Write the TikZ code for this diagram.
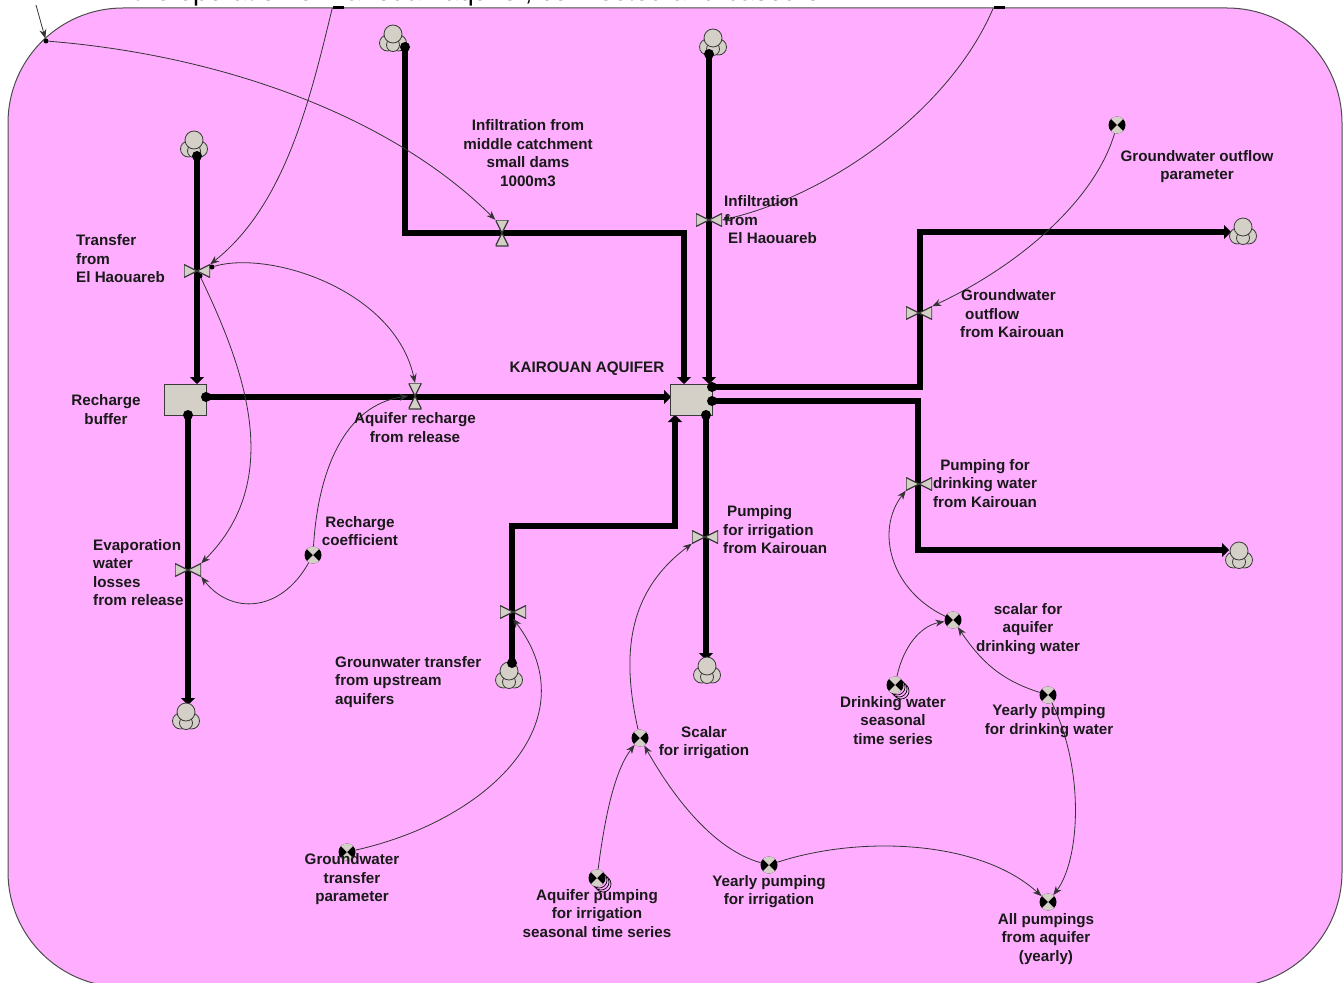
\documentclass[tikz,border=0pt]{standalone}
\usepackage{fontspec}
\setmainfont{Liberation Sans}
\usetikzlibrary{arrows.meta,backgrounds}
\definecolor{panelpink}{HTML}{FFAEFF}
\definecolor{partgray}{HTML}{D4D0C8}
\definecolor{edgegray}{HTML}{3A3A3A}
\tikzset{
  x=1pt,y=-1pt,
  lbl/.style={font=\fontsize{15.2}{18.5}\selectfont\bfseries,inner sep=0pt,text=black!90,yshift=-0.3pt},
  lc/.style={lbl,align=center},
  ll/.style={lbl,align=left,anchor=west},
  pipe/.style={line width=5.5pt,black,line join=miter,-{Triangle[length=7pt,width=14pt]}},
  flowdot/.style={circle,fill=black,minimum size=10pt,inner sep=0pt},
  info/.style={line width=0.8pt,draw=black!80,-{Stealth[length=9pt,width=7pt]}},
  infodot/.style={circle,fill=black,minimum size=5pt,inner sep=0pt},
  topbar/.style={rectangle,fill=black,minimum width=11pt,minimum height=3pt,inner sep=0pt},
  stockbox/.style={rectangle,draw=edgegray,line width=0.8pt,fill=partgray,minimum width=42pt,minimum height=31pt,inner sep=0pt},
  valveh/.style={rectangle,minimum width=26pt,minimum height=13pt,inner sep=0pt,
    path picture={\filldraw[fill=partgray,draw=edgegray,line width=1.2pt]
      (path picture bounding box.north west) -- (path picture bounding box.south east) --
      (path picture bounding box.north east) -- (path picture bounding box.south west) -- cycle;}},
  valvev/.style={rectangle,minimum width=13pt,minimum height=26pt,inner sep=0pt,
    path picture={\filldraw[fill=partgray,draw=edgegray,line width=1.2pt]
      (path picture bounding box.north west) -- (path picture bounding box.south east) --
      (path picture bounding box.south west) -- (path picture bounding box.north east) -- cycle;}},
  conv/.style={circle,fill=black,minimum size=17pt,inner sep=0pt,
    path picture={\fill[partgray]
      (path picture bounding box.north west) -- (path picture bounding box.north east) --
      (path picture bounding box.south west) -- (path picture bounding box.south east) -- cycle;}},
  cloudpart/.style={draw=edgegray,line width=0.8pt,fill=partgray},
}
\newcommand{\cloudat}[3]{%
  \coordinate (#1) at (#2,#3);
  \filldraw[cloudpart] (#1) ++(-5.5,3) circle (8pt);
  \filldraw[cloudpart] (#1) ++(5.5,3) circle (8pt);
  \filldraw[cloudpart] (#1) ++(0,5) circle (6.5pt);
  \filldraw[cloudpart] (#1) ++(0,-6) circle (9pt);
}
\newcommand{\seriesat}[2]{%
  \foreach \d in {6,4,2} {\filldraw[draw=black,line width=0.7pt,fill=panelpink] (#1+\d,#2+\d) circle (8pt);}
}
\begin{document}
\begin{tikzpicture}
\useasboundingbox (0,0) rectangle (1343,982);

% top title, cut by the page edge
\node[anchor=base west,inner sep=0pt,font=\fontsize{27}{30}\selectfont] (title) at (133,0.5) {the operation of Kairouan aquifer, connected and based on};

% stocks
\node[stockbox] (buffer) at (185.5,399.5) {};
\node[stockbox] (aquifer) at (691.5,399.5) {};

% clouds
\cloudat{c1}{194}{146}
\cloudat{c2}{393}{40}
\cloudat{c3}{713}{44}
\cloudat{c4}{1243}{233}
\cloudat{c5}{1239}{557}
\cloudat{c6}{186}{718}
\cloudat{c7}{509}{677}
\cloudat{c8}{707}{672}

% valves
\node[valveh] (vTransfer) at (197,271) {};
\node[valvev] (vMiddle) at (502,233) {};
\node[valveh] (vInfil) at (709,220) {};
\node[valveh] (vOutflow) at (919,313) {};
\node[valveh] (vDrink) at (919,484) {};
\node[valveh] (vIrrig) at (705,537) {};
\node[valveh] (vUp) at (513,612) {};
\node[valveh] (vEvap) at (188,570) {};
\node[valvev] (vRecharge) at (415,396) {};

% flow start dots
\node[flowdot] (d1) at (197,156) {};
\node[flowdot] (d2) at (405,47) {};
\node[flowdot] (d3) at (709,54) {};
\node[flowdot] (d4) at (206,397) {};
\node[flowdot] (d5) at (188,415) {};
\node[flowdot] (d6) at (712,387) {};
\node[flowdot] (d7) at (712,401) {};
\node[flowdot] (d8) at (706,415) {};
\node[flowdot] (d9) at (512,663) {};

% flow ends and bends
\coordinate (e1) at (197,384);
\coordinate (b2a) at (405,233);
\coordinate (b2b) at (684,233);
\coordinate (e2) at (684,384);
\coordinate (e3) at (709,384);
\coordinate (e4) at (671,397);
\coordinate (e5) at (188,705);
\coordinate (b6a) at (920,387);
\coordinate (b6b) at (920,232);
\coordinate (e6) at (1231,232);
\coordinate (b7a) at (918,401);
\coordinate (b7b) at (918,550);
\coordinate (e7) at (1229,550);
\coordinate (e8) at (706,660);
\coordinate (b9a) at (512,526);
\coordinate (b9b) at (675,526);
\coordinate (e9) at (675,415);

\begin{pgfonlayer}{background}
  \filldraw[fill=panelpink,draw=black!70,line width=1pt,rounded corners=115pt] (8,8) rectangle (1342,987);
  \draw[pipe] (d1.center) -- (e1);
  \draw[pipe] (d2.center) -- (b2a) -- (b2b) -- (e2);
  \draw[pipe] (d3.center) -- (e3);
  \draw[pipe] (d4.center) -- (e4);
  \draw[pipe] (d5.center) -- (e5);
  \draw[pipe] (d6.center) -- (b6a) -- (b6b) -- (e6);
  \draw[pipe] (d7.center) -- (b7a) -- (b7b) -- (e7);
  \draw[pipe] (d8.center) -- (e8);
  \draw[pipe] (d9.center) -- (b9a) -- (b9b) -- (e9);
\end{pgfonlayer}

% converters
\node[conv] (pOutflow) at (1117,125) {};
\node[conv] (pRecharge) at (313,555) {};
\node[conv] (pScalarIrr) at (640,738) {};
\seriesat{597}{878}
\node[conv] (pSeasonIrr) at (597,878) {};
\node[conv] (pYearIrr) at (769,865) {};
\node[conv] (pAll) at (1048,902) {};
\node[conv] (pGwTransfer) at (347,852) {};
\node[conv] (pScalarDrink) at (953,620) {};
\seriesat{895}{685}
\node[conv] (pSeasonDrink) at (895,685) {};
\node[conv] (pYearDrink) at (1048,695) {};

% information links
\coordinate (topfree) at (36,5);
\node[infodot] (iA) at (46,41) {};
\node[topbar] (iB) at (338,8) {};
\node[topbar] (iC) at (999,8) {};
\node[infodot] (iD) at (212,267) {};
\node[infodot] (iE) at (200,276) {};
\draw[info] (topfree) -- (iA);
\draw[info] (iA) .. controls (220,55) and (390,115) .. (vMiddle.north west);
\draw[info] (iB.west) .. controls (310,100) and (285,205) .. (vTransfer.north east);
\draw[info] (iC.west) .. controls (950,110) and (830,195) .. (vInfil.east);
\draw[info] (iD) .. controls (270,250) and (395,290) .. (vRecharge.north);
\draw[info] (iE) .. controls (245,370) and (285,480) .. (vEvap.north east);
\draw[info] (pRecharge) .. controls (318,470) and (345,405) .. (vRecharge.west);
\draw[info] (pRecharge) .. controls (280,614) and (230,614) .. (vEvap.south east);
\draw[info] (pGwTransfer) .. controls (490,820) and (590,720) .. (vUp.south);
\draw[info] (pScalarIrr) .. controls (620,650) and (630,590) .. (vIrrig.south west);
\draw[info] (pSeasonIrr) .. controls (605,815) and (615,770) .. (pScalarIrr);
\draw[info] (pYearIrr) .. controls (715,850) and (675,800) .. (pScalarIrr);
\draw[info] (pYearIrr) .. controls (860,835) and (980,840) .. (pAll);
\draw[info] (pYearDrink) .. controls (1085,770) and (1080,860) .. (pAll);
\draw[info] (pYearDrink) .. controls (1000,680) and (980,660) .. (pScalarDrink);
\draw[info] (pSeasonDrink) .. controls (905,640) and (925,625) .. (pScalarDrink);
\draw[info] (pScalarDrink) .. controls (890,590) and (875,530) .. (vDrink.south west);
\draw[info] (pOutflow) .. controls (1095,200) and (1020,265) .. (vOutflow.north east);

% labels
\node[ll] (tTransfer) at (76,258.5) {Transfer\\from\\El Haouareb};
\node[lc] (tMiddle) at (528,153) {Infiltration from\\middle catchment\\small dams\\1000m3};
\node[ll] (tInfil) at (724,219.5) {Infiltration\\from\\\hspace*{4pt}El Haouareb};
\node[lc] (tOutPar) at (1197,166.5) {Groundwater outflow\\parameter};
\node[ll] (tOutflow) at (960,313.5) {\hspace*{1pt}Groundwater\\\hspace*{5pt}outflow\\from Kairouan};
\node[lc] (tBuffer) at (106,409.5) {Recharge\\buffer};
\node[lc] (tAquifer) at (587,368.5) {KAIROUAN AQUIFER};
\node[lc] (tRecharge) at (415,427.5) {Aquifer recharge\\from release};
\node[lc] (tDrink) at (985,483) {Pumping for\\drinking water\\from Kairouan};
\node[lc] (tCoef) at (360,531) {Recharge\\coefficient};
\node[ll] (tEvap) at (93,572.5) {Evaporation\\water\\losses\\from release};
\node[ll] (tIrrig) at (723,529.5) {\hspace*{4pt}Pumping\\for irrigation\\from Kairouan};
\node[ll] (tUp) at (335,681.5) {Grounwater transfer\\from upstream\\aquifers};
\node[lc] (tScalarIrr) at (704,742.5) {Scalar\\for irrigation};
\node[lc] (tScalarDrink) at (1028,628.5) {scalar for\\aquifer\\drinking water};
\node[lc] (tSeasonDrink) at (893,720) {Drinking water\\seasonal\\time series};
\node[lc] (tYearDrink) at (1049,721) {Yearly pumping\\for drinking water};
\node[lc] (tGwPar) at (352,879) {Groundwater\\transfer\\parameter};
\node[lc] (tSeasonIrr) at (597,913) {Aquifer pumping\\for irrigation\\seasonal time series};
\node[lc] (tYearIrr) at (769,891.5) {Yearly pumping\\for irrigation};
\node[lc] (tAll) at (1046,938.5) {All pumpings\\from aquifer\\(yearly)};
\end{tikzpicture}
\end{document}
